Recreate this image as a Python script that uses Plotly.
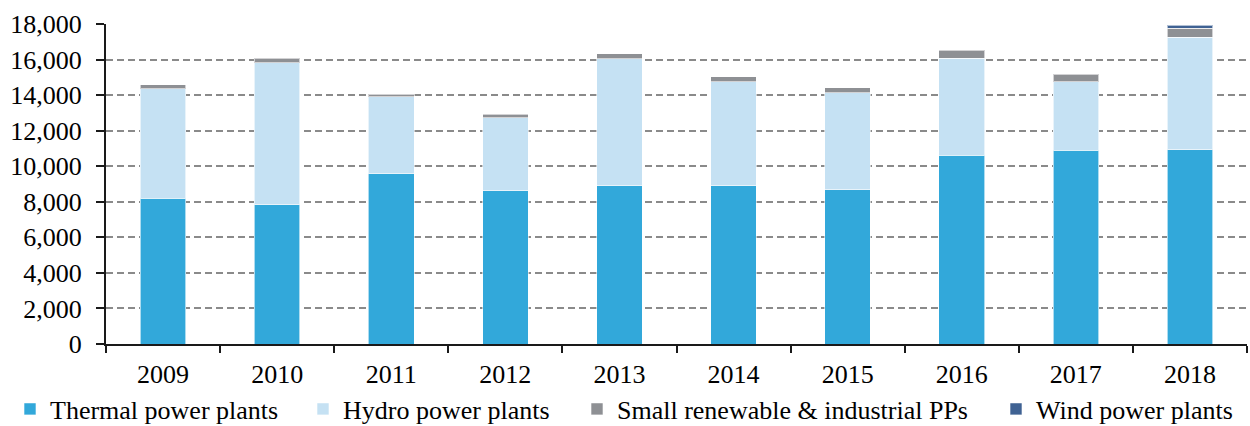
import plotly.graph_objects as go

years = ["2009", "2010", "2011", "2012", "2013", "2014", "2015", "2016", "2017", "2018"]
thermal = [8210, 7840, 9580, 8620, 8900, 8900, 8680, 10610, 10910, 10930]
hydro = [6160, 7990, 4340, 4120, 7140, 5850, 5450, 5450, 3840, 6330]
small = [210, 250, 140, 190, 280, 280, 280, 470, 410, 490]
wind = [None, None, None, None, None, None, None, None, None, 170]

series = [
    ("Thermal power plants", thermal, "#32A8DA", "legend", 10),
    ("Hydro power plants", hydro, "#C5E1F3", "legend2", 303),
    ("Small renewable & industrial PPs", small, "#8E9094", "legend3", 577),
    ("Wind power plants", wind, "#3F6293", "legend4", 996),
]

FONT = "Liberation Serif"
W, H = 1250, 426

fig = go.Figure()
for name, vals, color, leg, _ in series:
    fig.add_trace(go.Bar(
        x=years, y=vals, name=name, legend=leg,
        marker=dict(color=color, line=dict(color="rgba(255,255,255,0.6)", width=1)),
        width=0.4,
    ))

legends = {}
for name, vals, color, leg, left in series:
    legends[leg] = dict(
        xref="container", yref="container",
        x=left / W, y=1 - 409 / H, xanchor="left", yanchor="middle",
        orientation="h", bgcolor="rgba(0,0,0,0)",
        font=dict(family=FONT, size=26, color="#000"),
        itemwidth=30, tracegroupgap=0,
    )

fig.update_layout(
    width=W, height=H,
    barmode="stack",
    bargap=0.6,
    showlegend=True,
    plot_bgcolor="white", paper_bgcolor="white",
    margin=dict(l=106, r=3, t=24, b=82, autoexpand=False),
    font=dict(family=FONT, size=26, color="#000"),
    **legends,
)

fig.update_xaxes(
    type="category",
    showline=True, linecolor="#1a1a1a", linewidth=2,
    ticks="outside", tickson="boundaries", ticklen=7, tickwidth=2, tickcolor="#1a1a1a",
    tickfont=dict(family=FONT, size=26, color="#000"),
    ticklabelstandoff=6,
    showgrid=False,
)
fig.update_yaxes(
    range=[0, 18000], dtick=2000, tickformat=",d",
    showline=True, linecolor="#1a1a1a", linewidth=2,
    ticks="outside", ticklen=8, tickwidth=2, tickcolor="#1a1a1a",
    tickfont=dict(family=FONT, size=26, color="#000"),
    showgrid=True, gridcolor="#8a8a8a", gridwidth=2, griddash="7px,4px",
    zeroline=False,
    ticklabelstandoff=9,
)

fig.write_html("out.html")
